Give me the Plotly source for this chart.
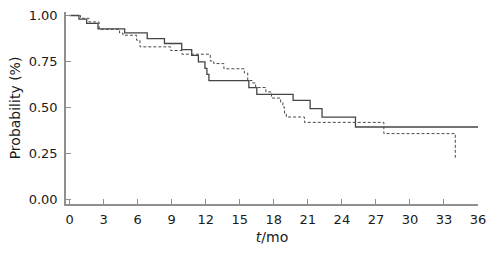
import plotly.graph_objects as go

# Kaplan-Meier style step data
solid_t = [0, 0.82, 1.5, 2.5, 4.85, 6.84, 8.36, 9.88, 10.76, 11.35, 11.93, 12.1, 12.28,
           15.8, 16.5, 19.7, 21.2, 22.25, 25.2, 36]
solid_p = [1.0, 0.98, 0.957, 0.927, 0.906, 0.875, 0.848, 0.815, 0.784, 0.748, 0.713, 0.68, 0.647,
           0.609, 0.572, 0.539, 0.495, 0.449, 0.395, 0.395]

dashed_t = [0, 0.96, 1.7, 2.6, 4.4, 4.7, 5.9, 6.2, 8.9, 9.9, 12.4, 12.7, 13.6, 15.4, 15.7,
            16.1, 16.4, 17.3, 17.8, 18.6, 18.8, 18.95, 19.1, 20.7, 27.7, 34.0]
dashed_p = [1.0, 0.985, 0.965, 0.925, 0.905, 0.893, 0.866, 0.83, 0.81, 0.79, 0.753, 0.739, 0.711,
            0.688, 0.647, 0.634, 0.609, 0.585, 0.552, 0.53, 0.503, 0.47, 0.449, 0.42, 0.359, 0.228]

x_ticks = [0, 3, 6, 9, 12, 15, 18, 21, 24, 27, 30, 33, 36]
y_ticks = [0.0, 0.25, 0.5, 0.75, 1.0]
y_tick_labels = ["0.00", "0.25", "0.50", "0.75", "1.00"]

fig = go.Figure()
fig.add_trace(go.Scatter(x=solid_t, y=solid_p, mode="lines", line_shape="hv",
                         line=dict(color="#454545", width=1.3), showlegend=False))
fig.add_trace(go.Scatter(x=dashed_t, y=dashed_p, mode="lines", line_shape="hv",
                         line=dict(color="#4a4a4a", width=1, dash="3px,2px"), showlegend=False))

axis_col = "#8f8f8f"
fig.update_layout(
    width=491, height=253,
    margin=dict(l=66, r=13, t=12, b=49, autoexpand=False),
    paper_bgcolor="white", plot_bgcolor="white",
    font=dict(family="DejaVu Sans", size=13, color="#1a1a1a"),
)
fig.update_xaxes(
    range=[-0.32, 36], tickvals=x_ticks, ticktext=[str(v) for v in x_ticks],
    showgrid=False, zeroline=False, showline=True, linecolor=axis_col, linewidth=1.5,
    ticks="inside", ticklen=5, tickcolor=axis_col, tickwidth=1,
    ticklabelstandoff=3, automargin=False,
    title=dict(text="<i>t</i>/mo", font=dict(size=14), standoff=6),
)
fig.update_yaxes(
    range=[-0.023, 1.019], tickvals=y_ticks, ticktext=y_tick_labels,
    showgrid=False, zeroline=False, showline=True, linecolor=axis_col, linewidth=1.5,
    ticks="inside", ticklen=5, tickcolor=axis_col, tickwidth=1,
    ticklabelstandoff=4, automargin=False,
    title=dict(text="Probability (%)", font=dict(size=14), standoff=5),
)

# remove the browser's default page margin so the figure sits at the window's corner
fig.write_html("out.html", config={"displayModeBar": False},
               post_script="document.body.style.margin='0';")
